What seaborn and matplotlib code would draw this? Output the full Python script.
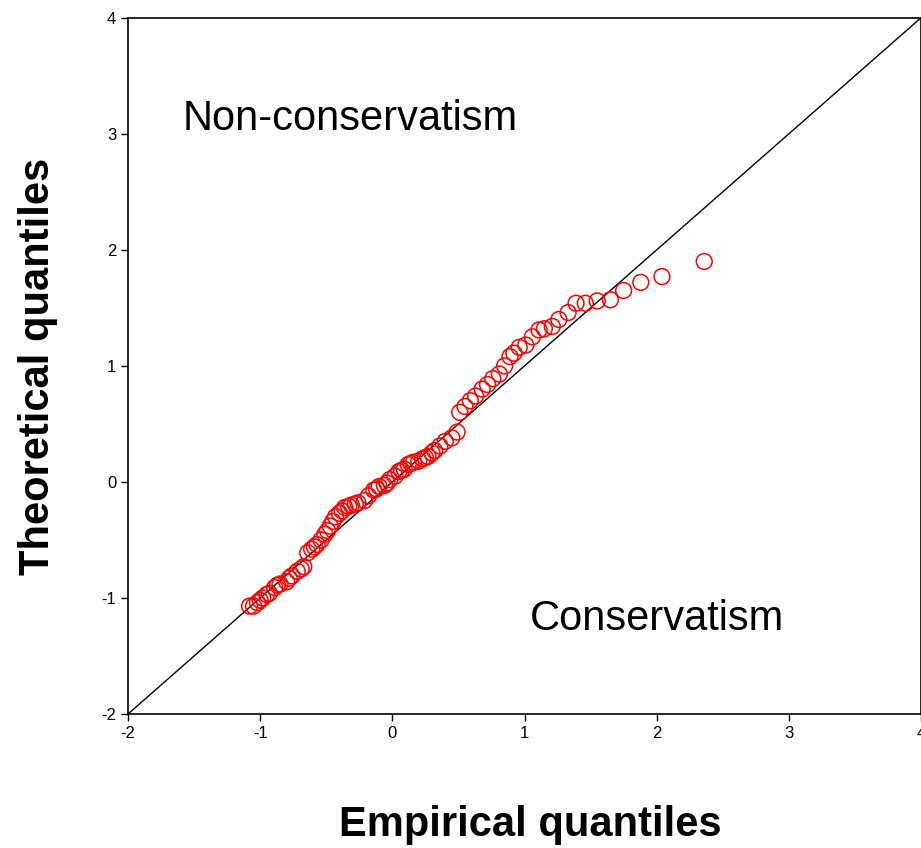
import numpy as np
import pandas as pd
import matplotlib
matplotlib.use("Agg")
import matplotlib.pyplot as plt
import seaborn as sns

# empirical vs theoretical quantiles
empirical = [-1.08, -1.05, -1.02, -1.00, -0.98, -0.95, -0.93, -0.89, -0.87, -0.85,
             -0.80, -0.78, -0.76, -0.72, -0.69, -0.67, -0.64, -0.61, -0.59, -0.57,
             -0.54, -0.51, -0.49, -0.47, -0.45, -0.43, -0.40, -0.38, -0.36, -0.33,
             -0.31, -0.28, -0.26, -0.21, -0.18, -0.14, -0.12, -0.10, -0.06, -0.04,
             -0.02, 0.02, 0.05, 0.07, 0.09, 0.12, 0.14, 0.16, 0.20, 0.23,
             0.25, 0.27, 0.30, 0.32, 0.36, 0.40, 0.45, 0.49, 0.51, 0.55,
             0.59, 0.63, 0.68, 0.72, 0.76, 0.81, 0.85, 0.89, 0.92, 0.96,
             1.01, 1.06, 1.11, 1.15, 1.21, 1.26, 1.33, 1.39, 1.46, 1.55,
             1.65, 1.75, 1.88, 2.04, 2.36]
theoretical = [-1.07, -1.07, -1.04, -1.02, -1.00, -0.97, -0.96, -0.91, -0.89, -0.88,
               -0.86, -0.83, -0.81, -0.77, -0.75, -0.73, -0.61, -0.58, -0.56, -0.54,
               -0.50, -0.45, -0.42, -0.38, -0.34, -0.30, -0.27, -0.25, -0.22, -0.21,
               -0.20, -0.19, -0.18, -0.16, -0.12, -0.07, -0.06, -0.04, -0.03, -0.01,
               0.02, 0.05, 0.09, 0.10, 0.11, 0.15, 0.16, 0.17, 0.18, 0.20,
               0.21, 0.22, 0.25, 0.27, 0.31, 0.35, 0.38, 0.43, 0.60, 0.65,
               0.70, 0.74, 0.80, 0.84, 0.89, 0.93, 1.00, 1.08, 1.11, 1.16,
               1.18, 1.25, 1.31, 1.32, 1.34, 1.40, 1.46, 1.54, 1.54, 1.56,
               1.57, 1.65, 1.72, 1.77, 1.90]

ticks = [-2, -1, 0, 1, 2, 3, 4]

df = pd.DataFrame({"empirical": empirical, "theoretical": theoretical})

sns.set_style("ticks")
plt.rcParams["font.family"] = ["Liberation Sans", "DejaVu Sans"]
plt.rcParams["text.color"] = "black"
plt.rcParams["axes.labelcolor"] = "black"

fig = plt.figure(figsize=(9.21, 8.48), dpi=100)
ax = fig.add_axes([0.139, 0.158, 0.861, 0.821])

ax.plot([-2, 4], [-2, 4], color="black", linewidth=1.0, zorder=1)
sns.scatterplot(data=df, x="empirical", y="theoretical", ax=ax,
                marker="o", s=130, facecolors="none", edgecolor="red",
                linewidth=1.1, zorder=2)

ax.set_xlim(-2, 4)
ax.set_ylim(-2, 4)
ax.set_xticks(ticks)
ax.set_yticks(ticks)
ax.set_xticklabels([str(t) for t in ticks])
ax.set_yticklabels([str(t) for t in ticks])
ax.tick_params(direction="out", length=5, width=1, labelsize=12,
               colors="black", labelcolor="black")
for s in ax.spines.values():
    s.set_color("black")
    s.set_linewidth(1.2)

ax.set_xlabel("Empirical quantiles", fontsize=30, fontweight="bold", color="black")
ax.set_ylabel("Theoretical quantiles", fontsize=30, fontweight="bold", color="black")
ax.xaxis.set_label_coords(0.507, -0.13)
ax.yaxis.set_label_coords(-0.088, 0.5)

ax.text(-1.59, 3.03, "Non-conservatism", fontsize=30, color="black")
ax.text(1.04, -1.28, "Conservatism", fontsize=30, color="black")

fig.savefig("out.png", dpi=100)
